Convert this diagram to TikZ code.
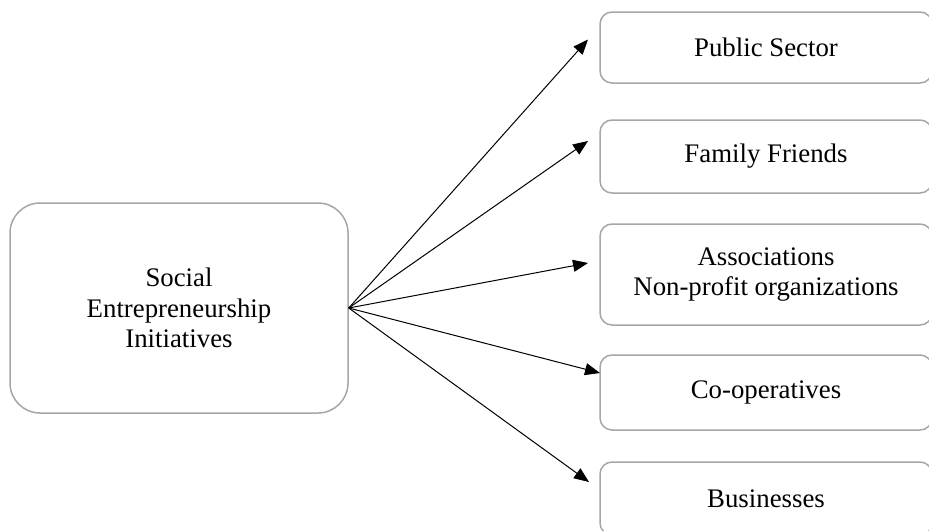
\documentclass[tikz,border=0pt]{standalone}
\usepackage{fontspec}
\setmainfont{Liberation Serif}
\usetikzlibrary{arrows.meta}

\begin{document}
\begin{tikzpicture}[x=0.5pt,y=-0.5pt,
                    box/.style={draw=black!35,line width=0.75pt,rounded corners=6pt,
                      align=center,inner sep=0pt,font=\fontsize{13.4}{15.4}\selectfont},
                    main box/.style={box,rounded corners=15pt,minimum width=169pt,minimum height=105pt},
                    side box/.style={box,minimum width=166pt},
                    link/.style={-{Triangle[length=7.5pt,width=6pt]},line width=0.5pt}]

  \useasboundingbox (0,0) rectangle (929,530);

  \node[main box] (0) at (179,308) {Social\\Entrepreneurship\\Initiatives};
  \node[side box,minimum height=35.5pt] (1) at (766,47.5) {Public Sector};
  \node[side box,minimum height=36.5pt] (2) at (766,156.5) {Family Friends};
  \node[side box,minimum height=50.5pt] (3) at (766,274.5) {Associations\\Non-profit organizations};
  \node[side box,minimum height=37.5pt] (4) at (766,392.5) {Co-operatives};
  \node[side box,minimum height=36.5pt] (5) at (766,498.5) {Businesses};

  \coordinate (t1) at (588,39.5);
  \coordinate (t2) at (588,141);
  \coordinate (t3) at (588,263);
  \coordinate (t4) at (600,373);
  \coordinate (t5) at (589,482);

  \path[link]
    (0.east) edge (t1)
             edge (t2)
             edge (t3)
             edge (t4)
             edge (t5);
\end{tikzpicture}
\end{document}
